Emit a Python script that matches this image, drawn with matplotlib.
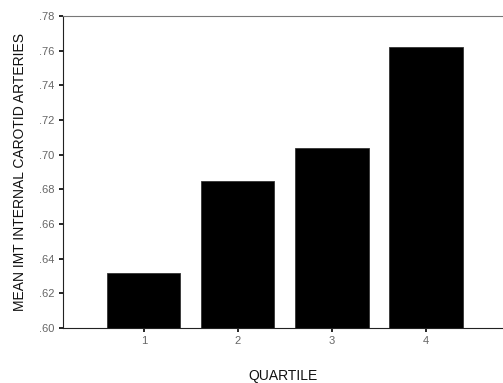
import numpy as np
import matplotlib
matplotlib.use('Agg')
import matplotlib.pyplot as plt

plt.rcParams['font.family'] = ['Liberation Sans', 'DejaVu Sans']

quartiles = [1, 2, 3, 4]
mean_imt = [0.632, 0.685, 0.704, 0.762]
yticks = [0.60, 0.62, 0.64, 0.66, 0.68, 0.70, 0.72, 0.74, 0.76, 0.78]

fig = plt.figure(figsize=(5.03, 3.83), dpi=100)
ax = fig.add_axes([0.125, 0.1436, 0.875, 0.8146])

ax.bar(quartiles, mean_imt, width=0.78, color='black', edgecolor='#333333', linewidth=0.6)

ax.set_ylim(0.60, 0.78)
ax.set_xlim(0.14, 4.82)
ax.set_yticks(yticks)
ax.set_yticklabels(['.%02d' % round(v * 100) for v in yticks])
ax.set_xticks(quartiles)
ax.set_xticklabels([str(q) for q in quartiles])

ax.tick_params(axis='both', direction='out', length=3, width=1.2, colors='black',
               labelcolor='#666666', labelsize=8, pad=3)
ax.spines['right'].set_visible(False)
ax.spines['top'].set_color('#777777')
ax.spines['left'].set_color('#222222')
ax.spines['bottom'].set_color('#222222')

ax.set_ylabel('MEAN IMT INTERNAL CAROTID ARTERIES', fontsize=10, color='#111111', labelpad=9)
ax.set_xlabel('QUARTILE', fontsize=10, color='#111111', labelpad=24)
ax.xaxis.set_label_coords(0.5, -0.13)

fig.savefig('out.png', dpi=100)
